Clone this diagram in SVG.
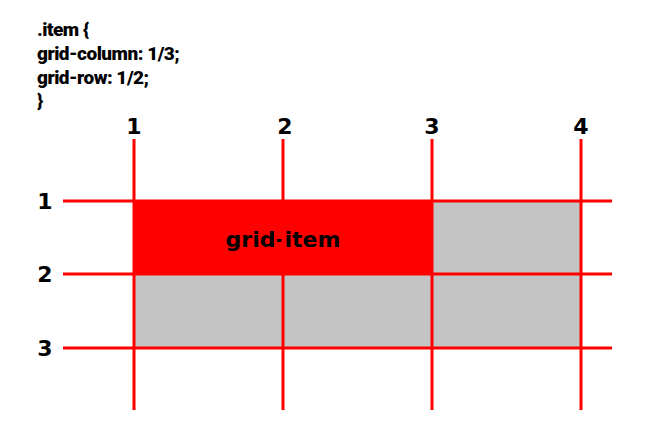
<svg xmlns="http://www.w3.org/2000/svg" width="650" height="426" viewBox="0 0 650 426">
<style>
.code{font-family:Roboto,"Liberation Sans",sans-serif;font-weight:900;font-size:19px;fill:#000;letter-spacing:-0.5px}
.num{font-family:"DejaVu Sans",sans-serif;font-weight:bold;font-size:22px;fill:#000;text-anchor:middle}
.lbl{font-family:"DejaVu Sans",sans-serif;font-weight:bold;font-size:22px;fill:#000;text-anchor:middle}
.ln{stroke:#ff0000;stroke-width:3;fill:none}
</style>
<rect width="650" height="426" fill="#fff"/>
<g id="code">
<text class="code" x="37" y="36">.item {</text>
<text class="code" x="37" y="60">grid-column: 1/3;</text>
<text class="code" x="37" y="84">grid-row: 1/2;</text>
<text class="code" x="37" y="107">}</text>
</g>
<g id="grid-container">
<rect x="134" y="201" width="447" height="147" fill="#c4c4c4"/>
</g>
<g id="grid-item">
<rect x="134" y="201" width="298" height="73" fill="#ff0000"/>
<text class="lbl" x="283" y="247">grid-item</text>
</g>
<g id="connectors">
<line class="ln" x1="134" y1="139" x2="134" y2="410"/>
<line class="ln" x1="283" y1="139" x2="283" y2="410"/>
<line class="ln" x1="432" y1="139" x2="432" y2="410"/>
<line class="ln" x1="581" y1="139" x2="581" y2="410"/>
<line class="ln" x1="63" y1="201" x2="612" y2="201"/>
<line class="ln" x1="63" y1="274" x2="612" y2="274"/>
<line class="ln" x1="63" y1="348" x2="612" y2="348"/>
</g>
<g id="col-labels">
<text class="num" x="134" y="134">1</text>
<text class="num" x="285" y="134">2</text>
<text class="num" x="432" y="134">3</text>
<text class="num" x="581" y="134">4</text>
</g>
<g id="row-labels">
<text class="num" x="45" y="209">1</text>
<text class="num" x="45" y="282">2</text>
<text class="num" x="45" y="356">3</text>
</g>
</svg>
